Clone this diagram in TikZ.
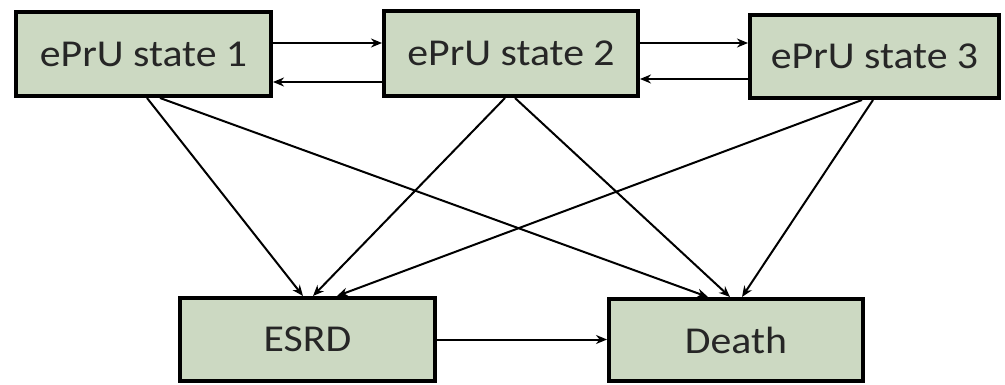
\documentclass[tikz,border=0pt]{standalone}
\usepackage{fontspec}
\setmainfont{Carlito}
\usepackage{graphicx}
\usetikzlibrary{arrows.meta}
\definecolor{boxfill}{RGB}{204,217,194}
\newcommand{\lbl}[1]{\scalebox{1.1}[1]{#1}}
\tikzset{
  statebox/.style={draw=black, line width=4pt, fill=boxfill, inner sep=0pt,
    font=\fontsize{38}{42}\selectfont, text=black!85},
  flow/.style={line width=2pt, -{Stealth[length=11pt,width=9pt]}}
}
\begin{document}
\begin{tikzpicture}[x=1pt,y=-1pt]
\useasboundingbox (0,0) rectangle (1005,385);
\node[statebox, minimum width=255pt, minimum height=84pt] (s1) at (143.5,54) {\lbl{ePrU state 1}};
\node[statebox, minimum width=254pt, minimum height=85pt] (s2) at (511,53.5) {\lbl{ePrU state 2}};
\node[statebox, minimum width=249pt, minimum height=83pt] (s3) at (874.5,56.5) {\lbl{ePrU state 3}};
\node[statebox, minimum width=255pt, minimum height=83pt] (esrd) at (307.5,339.5) {\lbl{ESRD}};
\node[statebox, minimum width=254pt, minimum height=82pt] (death) at (736,340) {\lbl{Death}};
% horizontal transitions
\draw[flow] ([yshift=11pt]s1.east) -- ([yshift=11pt]s1.east -| s2.west);
\draw[flow] ([yshift=-28.5pt]s2.west) -- ([yshift=-28.5pt]s2.west -| s1.east);
\draw[flow] ([yshift=10.5pt]s2.east) -- ([yshift=10.5pt]s2.east -| s3.west);
\draw[flow] ([yshift=-22.5pt]s3.west) -- ([yshift=-22.5pt]s3.west -| s2.east);
\draw[flow] (esrd.east) -- (esrd.east -| death.west);
% diagonal transitions
\draw[flow] ([xshift=3.5pt]s1.south) -- ([xshift=-4.5pt]esrd.north);
\draw[flow] ([xshift=16.5pt]s1.south) -- ([xshift=-28pt]death.north);
\draw[flow] ([xshift=-6pt]s2.south) -- ([xshift=5.5pt]esrd.north);
\draw[flow] ([xshift=4pt]s2.south) -- ([xshift=-6pt]death.north);
\draw[flow] ([xshift=-12.5pt]s3.south) -- ([xshift=29.5pt]esrd.north);
\draw[flow] ([xshift=-1.5pt]s3.south) -- ([xshift=6pt]death.north);
\end{tikzpicture}
\end{document}
